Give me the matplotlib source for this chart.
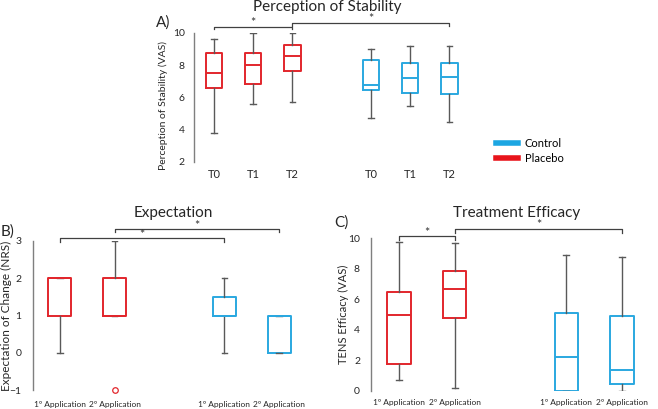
import matplotlib
matplotlib.use("Agg")
import matplotlib.pyplot as plt
from matplotlib.lines import Line2D

plt.rcParams['font.family'] = ['Lato', 'DejaVu Sans']

RED = '#E2262C'
BLUE = '#2AA8E0'
GRAY = '#595959'

# ---- Panel A: Perception of Stability (VAS) ----
a_labels = ['T0', 'T1', 'T2', 'T0', 'T1', 'T2']
a_groups = ['Placebo', 'Placebo', 'Placebo', 'Control', 'Control', 'Control']
a_low = [3.8, 5.6, 5.7, 4.7, 5.5, 4.5]
a_q1 = [6.6, 6.85, 7.65, 6.45, 6.25, 6.22]
a_med = [7.5, 8.0, 8.6, 6.78, 7.2, 7.3]
a_q3 = [8.75, 8.75, 9.25, 8.35, 8.13, 8.13]
a_high = [9.6, 10.0, 10.0, 9.0, 9.2, 9.2]

# ---- Panel B: Expectation of Change (NRS) ----
b_labels = ['1º Application', '2º Application', '1º Application', '2º Application']
b_groups = ['Placebo', 'Placebo', 'Control', 'Control']
b_low = [0, 1, 0, 0]
b_q1 = [1, 1, 1, 0]
b_med = [2, 1, 1, 1]
b_q3 = [2, 2, 1.5, 1]
b_high = [2, 3, 2, 1]
b_fliers = [[], [-1], [], []]

# ---- Panel C: TENS Efficacy (VAS) ----
c_labels = ['1º Application', '2º Application', '1º Application', '2º Application']
c_groups = ['Placebo', 'Placebo', 'Control', 'Control']
c_low = [0.7, 0.2, 0.0, 0.0]
c_q1 = [1.74, 4.74, 0.0, 0.43]
c_med = [5.0, 6.67, 2.22, 1.37]
c_q3 = [6.48, 7.87, 5.13, 4.91]
c_high = [9.76, 9.67, 8.87, 8.78]

W, H = 658, 409
fig = plt.figure(figsize=(W / 100, H / 100), dpi=100)
TXT = '#262626'


def px_axes(left, right, top, bottom):
    return fig.add_axes([left / W, 1 - bottom / H, (right - left) / W, (bottom - top) / H])


def draw_box(ax, pos, low, q1, med, q3, high, groups, width, capw, fliers=None):
    for i, p in enumerate(pos):
        col = RED if groups[i] == 'Placebo' else BLUE
        st = dict(whislo=low[i], q1=q1[i], med=med[i], q3=q3[i], whishi=high[i],
                  fliers=(fliers[i] if fliers else []))
        art = ax.bxp([st], positions=[p], widths=width, capwidths=capw, showfliers=True,
                     boxprops=dict(color=col, linewidth=1.4),
                     medianprops=dict(color=col, linewidth=1.4),
                     whiskerprops=dict(color=GRAY, linewidth=1.0),
                     capprops=dict(color=GRAY, linewidth=1.0),
                     flierprops=dict(marker='o', markerfacecolor='none', markeredgecolor=col,
                                     markersize=4, markeredgewidth=0.9))
        for f in art['fliers']:
            f.set_clip_on(False)


def style(ax, ylim, yticks, xlim, pos, labels, fs_x, ylabel, ylab_fs, ylab_px, ax_left, ax_w, pad):
    ax.set_ylim(*ylim)
    ax.set_xlim(*xlim)
    ax.set_yticks(yticks)
    ax.set_xticks(pos)
    ax.set_xticklabels(labels, fontsize=fs_x, color=TXT)
    ax.tick_params(axis='both', length=0, labelsize=7.5, colors=TXT)
    ax.tick_params(axis='y', pad=pad)
    ax.tick_params(axis='x', labelsize=fs_x)
    for s in ['top', 'right', 'bottom']:
        ax.spines[s].set_visible(False)
    ax.spines['left'].set_color('#7f7f7f')
    ax.spines['left'].set_linewidth(1.0)
    ax.set_ylabel(ylabel, fontsize=ylab_fs, color=TXT, va='center')
    ax.yaxis.set_label_coords((ylab_px - ax_left) / ax_w, 0.5)


def bracket(ax, x1, x2, y, ytick):
    ax.plot([x1, x1, x2, x2], [ytick, y, y, ytick], color='#404040', linewidth=0.9,
            clip_on=False)
    ax.annotate('*', xy=((x1 + x2) / 2, y), xytext=(0, -0.5), textcoords='offset points',
                ha='center', va='baseline', fontsize=9, color='#333333',
                annotation_clip=False)


# Panel A
A_L, A_R = 194.4, 469
axA = px_axes(A_L, A_R, 33, 162)
posA = [1, 2, 3, 5, 6, 7]
draw_box(axA, posA, a_low, a_q1, a_med, a_q3, a_high, a_groups, 0.42, 0.14)
style(axA, (2, 10), [2, 4, 6, 8, 10], (0.5, 7.5), posA, a_labels, 8,
      'Perception of Stability (VAS)', 7.5, 163, A_L, A_R - A_L, 7)
axA.yaxis.set_label_coords((163 - A_L) / (A_R - A_L), 0.44)
axA.tick_params(axis='x', pad=5)
bracket(axA, posA[0], posA[2], 10.4, 10.25)
bracket(axA, posA[2], posA[5], 10.65, 10.45)

# Panel B
B_L, B_R = 32.6, 306.4
axB = px_axes(B_L, B_R, 241, 390)
posB = [1, 2, 4, 5]
draw_box(axB, posB, b_low, b_q1, b_med, b_q3, b_high, b_groups, 0.42, 0.1, b_fliers)
style(axB, (-1, 3), [-1, 0, 1, 2, 3], (0.5, 5.5), posB, b_labels, 6,
      'Expectation of Change (NRS)', 8.5, 6, B_L, B_R - B_L, 8)
axB.tick_params(axis='x', pad=8)
bracket(axB, posB[0], posB[2], 3.08, 2.97)
bracket(axB, posB[1], posB[3], 3.32, 3.23)

# Panel C
C_L, C_R = 371.1, 649.9
axC = px_axes(C_L, C_R, 238, 391)
posC = [1, 2, 4, 5]
draw_box(axC, posC, c_low, c_q1, c_med, c_q3, c_high, c_groups, 0.42, 0.1)
style(axC, (0, 10), [0, 2, 4, 6, 8, 10], (0.5, 5.5), posC, c_labels, 6,
      'TENS Efficacy (VAS)', 8, 343, C_L, C_R - C_L, 8)
axC.tick_params(axis='x', pad=6)
bracket(axC, posC[0], posC[1], 10.11, 9.89)
bracket(axC, posC[1], posC[3], 10.61, 10.35)

# Titles and panel letters
fig.text(327 / W, 1 - 7 / H, 'Perception of Stability', ha='center', va='center',
         fontsize=11, color=TXT)
fig.text(173 / W, 1 - 213 / H, 'Expectation', ha='center', va='center',
         fontsize=11, color=TXT)
fig.text(517 / W, 1 - 213 / H, 'Treatment Efficacy', ha='center', va='center',
         fontsize=11, color=TXT)
fig.text(163 / W, 1 - 23 / H, 'A)', ha='center', va='center', fontsize=11, color=TXT)
fig.text(8 / W, 1 - 232 / H, 'B)', ha='center', va='center', fontsize=11, color=TXT)
fig.text(341 / W, 1 - 223 / H, 'C)', ha='center', va='center', fontsize=11, color=TXT)

# Legend
handles = [Line2D([], [], color='#1CA6E2', linewidth=4),
           Line2D([], [], color='#E8141B', linewidth=4)]
fig.legend(handles, ['Control', 'Placebo'], loc='center left',
           bbox_to_anchor=(486 / W, 1 - 151 / H), frameon=False, fontsize=8,
           handlelength=2.0, handletextpad=0.6, labelspacing=0.3)

fig.savefig('out.png', dpi=100)
